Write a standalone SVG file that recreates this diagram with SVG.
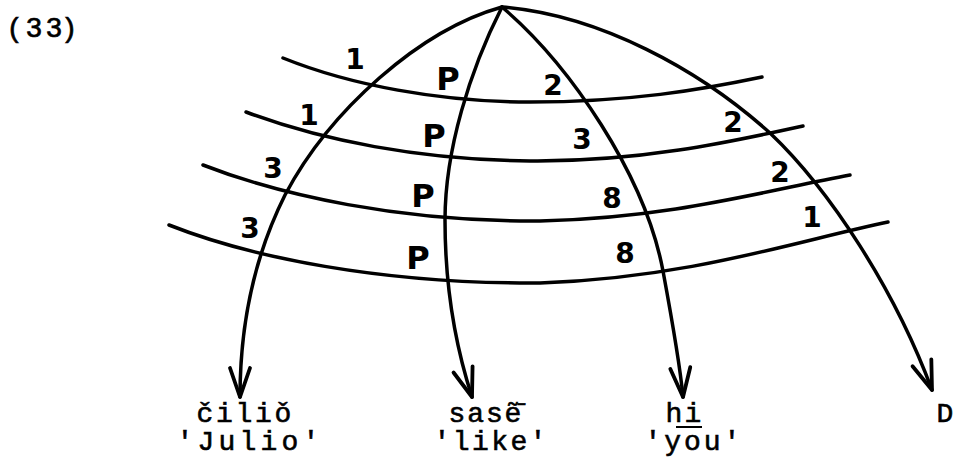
<svg xmlns="http://www.w3.org/2000/svg" width="955" height="458" viewBox="0 0 955 458">
<style>
.ln{fill:none;stroke:#000;stroke-width:3.5;stroke-linecap:round;stroke-linejoin:round}
.hw{font-family:"DejaVu Sans",sans-serif;font-weight:bold;font-size:28px;text-anchor:middle;fill:#000}
.hp{font-size:32px}
.tw{font-family:"Liberation Mono",monospace;font-size:28px;text-anchor:middle;fill:#000;stroke:#000;stroke-width:0.6}
.num{font-family:"Liberation Sans",sans-serif;font-size:28px;text-anchor:middle;fill:#000;stroke:#000;stroke-width:0.7}
</style>
<defs>
<marker id="arr" markerUnits="userSpaceOnUse" viewBox="-32 -16 40 32" markerWidth="40" markerHeight="32" refX="0" refY="0" orient="auto" overflow="visible">
<path d="M-29,-10 L0,0 L-29,10" fill="none" stroke="#000" stroke-width="3.8" stroke-linecap="round" stroke-linejoin="round"/>
</marker>
</defs>
<rect width="955" height="458" fill="#fff"/>
<text class="num" x="14 34 54 70" y="37">(33)</text>
<g id="connectors">
<path class="ln" d="M283,58 C350,85 440,102 530,102 C630,102 700,90 762,77"/>
<path class="ln" d="M246,112 C320,140 420,160 530,161 C640,162 730,142 803,126"/>
<path class="ln" d="M203,165 C280,195 400,222 540,221 C670,218 760,192 850,175"/>
<path class="ln" d="M169,225 C250,257 380,284 540,283 C690,278 800,240 888,222"/>
<path class="ln" marker-end="url(#arr)" d="M502,7 C420,30 330,110 285,195 C255,255 240,320 240,397"/>
<path class="ln" marker-end="url(#arr)" d="M502,7 C470,70 445,150 445,220 C445,300 460,360 472,397"/>
<path class="ln" marker-end="url(#arr)" d="M502,7 C570,65 645,175 663,271 C673,325 680,365 683,397"/>
<path class="ln" marker-end="url(#arr)" d="M502,7 C600,15 700,70 770,133 C830,190 895,290 932,390"/>
</g>
<g id="labels">
<text class="hw" x="355" y="69">1</text>
<text class="hw hp" x="448" y="89.7">P</text>
<text class="hw" x="553" y="95">2</text>
<text class="hw" x="309" y="125">1</text>
<text class="hw hp" x="434" y="146.7">P</text>
<text class="hw" x="582" y="149">3</text>
<text class="hw" x="733" y="132">2</text>
<text class="hw" x="273" y="178">3</text>
<text class="hw hp" x="423" y="206.7">P</text>
<text class="hw" x="612" y="208">8</text>
<text class="hw" x="780" y="182">2</text>
<text class="hw" x="250" y="238">3</text>
<text class="hw hp" x="418" y="268.7">P</text>
<text class="hw" x="625" y="263">8</text>
<text class="hw" x="812" y="227">1</text>
</g>
<g id="node-cilio">
<text class="tw" x="205 224.5 244 263.5 283" y="422">čiliǒ</text>
<text class="tw" x="185 206 227 248 269 290 311" y="450">'Julio'</text>
</g>
<g id="node-sase">
<text class="tw" x="457 475.7 494.3 513" y="422">sasẽ̄</text>
<text class="tw" x="442 461.2 480.4 499.6 518.8 538" y="450">'like'</text>
</g>
<g id="node-hi">
<text class="tw" x="674 693" y="422">hi</text>
<line x1="676" y1="427" x2="702" y2="427" stroke="#000" stroke-width="2"/>
<text class="tw" x="653 672.75 692.5 712.25 732" y="450">'you'</text>
</g>
<g id="node-D">
<text class="tw" x="945" y="422">D</text>
</g>
</svg>
